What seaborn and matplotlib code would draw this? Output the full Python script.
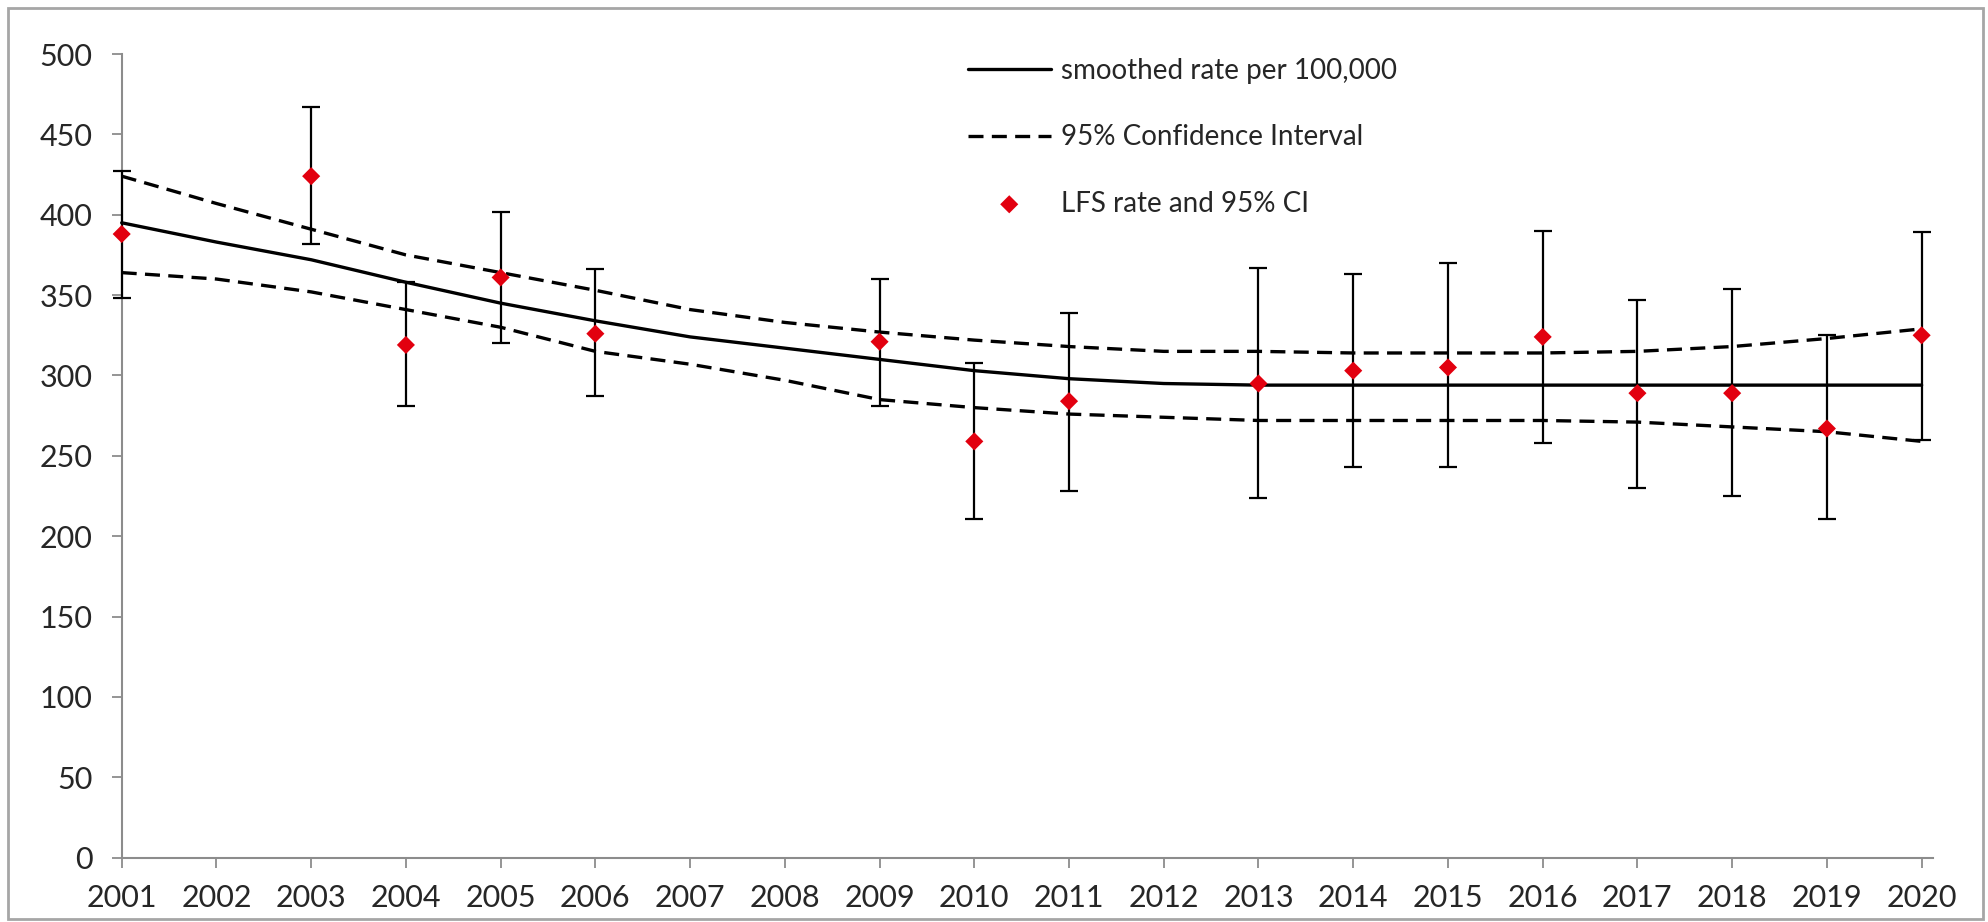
"""
LFS rate per 100,000: smoothed trend with 95% CI and yearly survey estimates
"""

import matplotlib

matplotlib.use("Agg")

import matplotlib.pyplot as plt
import numpy as np
import seaborn as sns
from matplotlib.patches import Rectangle

# smoothed series, every year
YEARS = list(range(2001, 2021))
SMOOTH = [395, 383, 372, 358, 345, 334, 324, 317, 310, 303,
          298, 295, 294, 294, 294, 294, 294, 294, 294, 294]
CI_UPPER = [424, 407, 391, 375, 364, 353, 341, 333, 327, 322,
            318, 315, 315, 314, 314, 314, 315, 318, 323, 329]
CI_LOWER = [364, 360, 352, 341, 330, 315, 307, 297, 285, 280,
            276, 274, 272, 272, 272, 272, 271, 268, 265, 259]

# LFS point estimates (no survey value for 2002, 2007, 2008, 2012)
PT_YEARS = [2001, 2003, 2004, 2005, 2006, 2009, 2010, 2011,
            2013, 2014, 2015, 2016, 2017, 2018, 2019, 2020]
PT_RATE = [388, 424, 319, 361, 326, 321, 259, 284,
           295, 303, 305, 324, 289, 289, 267, 325]
PT_LOW = [348, 382, 281, 320, 287, 281, 211, 228,
          224, 243, 243, 258, 230, 225, 211, 260]
PT_HIGH = [427, 467, 358, 402, 366, 360, 308, 339,
           367, 363, 370, 390, 347, 354, 325, 389]

W, H, DPI = 1988, 922, 100
AXIS_GREY = "#8c8c8c"
TEXT_COL = "#262626"
RED = "#e2000f"

sns.set_theme(style="white")
plt.rcParams["font.family"] = ["Lato", "DejaVu Sans"]

fig = plt.figure(figsize=(W / DPI, H / DPI), dpi=DPI)
ax = fig.add_axes([121.7 / W, 1 - 857.7 / H, (1933 - 121.7) / W, (857.7 - 54) / H])

sns.lineplot(x=YEARS, y=SMOOTH, ax=ax, color="black", lw=2.4,
             label="smoothed rate per 100,000", clip_on=False)
sns.lineplot(x=YEARS, y=CI_UPPER, ax=ax, color="black", lw=2.4,
             linestyle=(0, (4.5, 2.5)), label="95% Confidence Interval",
             clip_on=False)
sns.lineplot(x=YEARS, y=CI_LOWER, ax=ax, color="black", lw=2.4,
             linestyle=(0, (4.5, 2.5)), label="_nolegend_", clip_on=False)

rate = np.array(PT_RATE)
yerr = [rate - np.array(PT_LOW), np.array(PT_HIGH) - rate]
eb = ax.errorbar(PT_YEARS, PT_RATE, yerr=yerr, fmt="none", ecolor="black",
                 elinewidth=1.6, capsize=6.5, capthick=1.6, zorder=3)
for art in eb.lines[1] + eb.lines[2]:
    art.set_clip_on(False)
sns.scatterplot(x=PT_YEARS, y=PT_RATE, ax=ax, marker="D", color=RED, s=85,
                edgecolor="none", zorder=5, label="LFS rate and 95% CI",
                clip_on=False)

ax.set_xlim(2001, 2020.12)
ax.set_ylim(0, 500)
ax.set_xticks(YEARS)
ax.set_xticklabels([str(y) for y in YEARS])
ax.set_yticks(range(0, 501, 50))
ax.set_xlabel("")
ax.set_ylabel("")

for side in ["top", "right"]:
    ax.spines[side].set_visible(False)
for side in ["left", "bottom"]:
    ax.spines[side].set_color(AXIS_GREY)
    ax.spines[side].set_linewidth(1.5)

ax.tick_params(axis="both", which="major", direction="out", length=7,
               width=1.3, color=AXIS_GREY, labelsize=22, labelcolor=TEXT_COL)
ax.tick_params(axis="y", pad=14)
ax.tick_params(axis="x", pad=12)
ax.tick_params(left=True, bottom=True)

leg = ax.legend(loc="upper left", bbox_to_anchor=(0.467, 0.995),
                frameon=False, fontsize=20, handlelength=3.0,
                handletextpad=0.35, labelspacing=1.45, borderpad=0,
                borderaxespad=0)
for txt in leg.get_texts():
    txt.set_color(TEXT_COL)

# thin grey chart-area border
fig.patches.append(Rectangle((7.5 / W, 3 / H), (1983 - 7.5) / W, (922 - 3 - 8) / H,
                             transform=fig.transFigure, fill=False,
                             edgecolor="#a6a6a6", lw=2))

fig.savefig("out.png", dpi=DPI)
